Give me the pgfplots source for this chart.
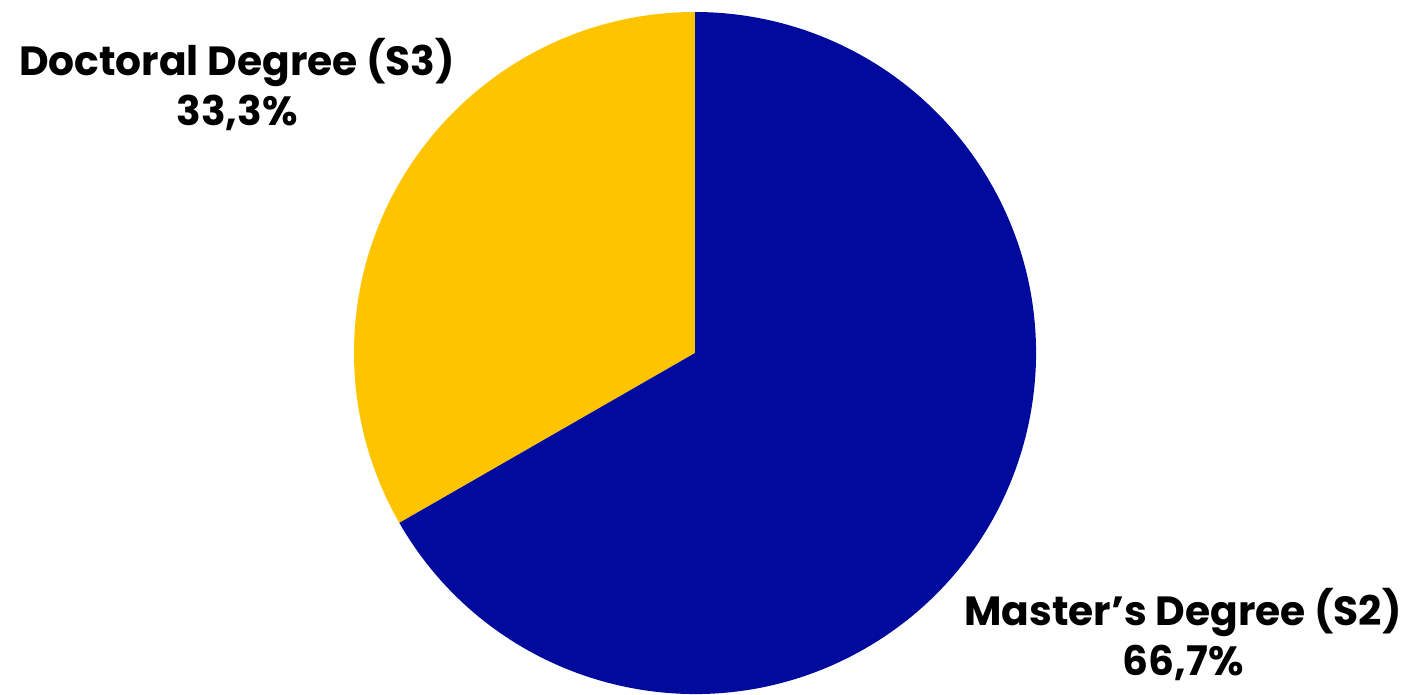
\documentclass[border=0pt]{standalone}
\usepackage{pgfplots}
\pgfplotsset{compat=1.18}
\usepackage{pgfplotstable}
\usepackage{fontspec}
\setmainfont{Poppins}

\definecolor{piebl}{HTML}{000A9C}
\definecolor{pieye}{HTML}{FFC400}

% share in percent, start at top and go counterclockwise
\pgfplotstableread{
name value
S3 33.3
S2 66.7
}\piedata

\begin{document}
\begin{tikzpicture}
\pgfplotstablegetelem{0}{value}\of\piedata \let\vA\pgfplotsretval
\pgfplotstablegetelem{1}{value}\of\piedata \let\vB\pgfplotsretval
\pgfmathsetmacro\aS{90}
\pgfmathsetmacro\aM{90+3.6*\vA}
\pgfmathsetmacro\aE{\aM+3.6*\vB}
\begin{axis}[
    width=14.07cm, height=6.94cm,
    scale only axis,
    hide axis,
    xmin=0, xmax=1407,
    ymin=0, ymax=694,
    clip=false,
  ]
  \fill[pieye] (axis cs:695,341) -- ++(\aS:3.41cm) arc[start angle=\aS, end angle=\aM, radius=3.41cm] -- cycle;
  \fill[piebl] (axis cs:695,341) -- ++(\aM:3.41cm) arc[start angle=\aM, end angle=\aE, radius=3.41cm] -- cycle;

  \tikzset{lbl/.style={anchor=base, font=\fontsize{11.6}{14}\selectfont\bfseries}}
  \node[lbl] at (axis cs:237,619) {Doctoral Degree (S3)};
  \node[lbl] at (axis cs:237,569) {33,3\%};
  \node[lbl] at (axis cs:1183,69) {Master’s Degree (S2)};
  \node[lbl] at (axis cs:1183,19) {66,7\%};
\end{axis}
\pgfresetboundingbox
\path[use as bounding box] (current axis.south west) rectangle (current axis.north east);
\end{tikzpicture}
\end{document}
